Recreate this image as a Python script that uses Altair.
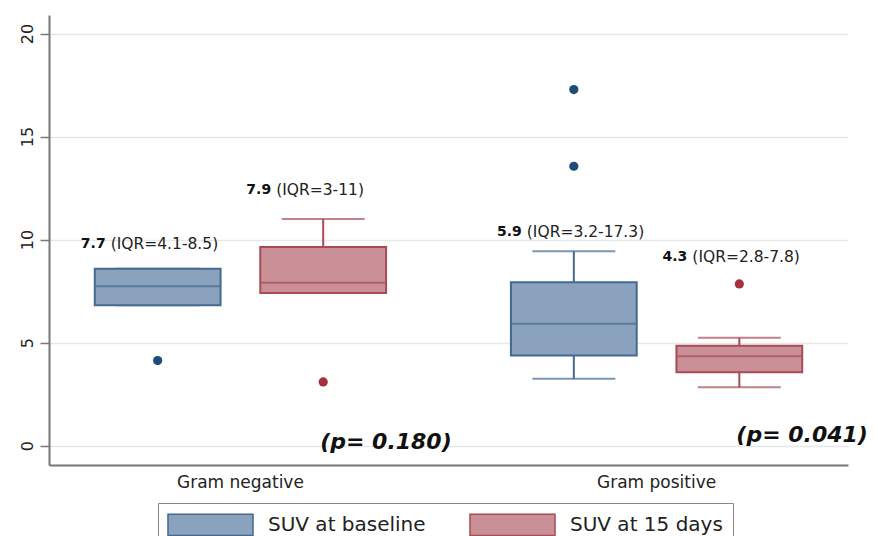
import altair as alt
import pandas as pd

# ---- data ----
groups = ["Gram negative", "Gram negative", "Gram positive", "Gram positive"]
series = ["SUV at baseline", "SUV at 15 days", "SUV at baseline", "SUV at 15 days"]
whisker_low = [6.81, 7.41, 3.24, 2.83]
q1 = [6.81, 7.41, 4.38, 3.56]
median = [7.73, 7.90, 5.92, 4.34]
q3 = [8.59, 9.64, 7.93, 4.85]
whisker_high = [8.59, 11.0, 9.43, 5.23]

outlier_group = ["Gram negative", "Gram negative", "Gram positive", "Gram positive", "Gram positive"]
outlier_series = ["SUV at baseline", "SUV at 15 days", "SUV at baseline", "SUV at baseline", "SUV at 15 days"]
outlier_value = [4.13, 3.09, 17.28, 13.56, 7.85]

label_bold = ["7.7", "7.9", "5.9", "4.3"]
label_rest = ["(IQR=4.1-8.5)", "(IQR=3-11)", "(IQR=3.2-17.3)", "(IQR=2.8-7.8)"]
label_y = [9.8, 12.4, 10.35, 9.15]

p_group = ["Gram negative", "Gram positive"]
p_series = ["SUV at 15 days", "SUV at 15 days"]
p_text = ["(p= 0.180)", "(p= 0.041)"]
p_y = [0.2, 0.5]

series_order = ["SUV at baseline", "SUV at 15 days"]
fill_colors = ["#8aa2bd", "#ca9097"]
line_colors = ["#45698f", "#a84b57"]
dot_colors = ["#1f4b7c", "#a3343f"]

FONT = "DejaVu Sans"

boxes = pd.DataFrame({
    "group": groups, "series": series, "lo": whisker_low, "q1": q1,
    "med": median, "q3": q3, "hi": whisker_high,
    "bold": label_bold, "rest": label_rest, "ly": label_y,
})
outliers = pd.DataFrame({"group": outlier_group, "series": outlier_series, "value": outlier_value})
pvals = pd.DataFrame({"group": p_group, "series": p_series, "text": p_text, "py": p_y})

y_scale = alt.Scale(domain=[-0.94, 20.9], nice=False, zero=False)

x_enc = alt.X(
    "group:N",
    sort=["Gram negative", "Gram positive"],
    scale=alt.Scale(paddingInner=0.3, paddingOuter=0.11),
    axis=alt.Axis(title=None, labelAngle=0, ticks=False, tickSize=0, labelPadding=9,
                  labelFontSize=17, labelFont=FONT, labelColor="#222",
                  domainColor="#777", domainWidth=2, grid=False),
)
xo_enc = alt.XOffset(
    "series:N", sort=series_order,
    scale=alt.Scale(domain=series_order, paddingInner=0.24, paddingOuter=0),
)

base = alt.Chart(boxes).encode(x=x_enc, xOffset=xo_enc)

line_color = alt.Color("series:N", scale=alt.Scale(domain=series_order, range=line_colors), legend=None)

# wide swatch: path is 8x2 units, drawn at sqrt(size)/2 per unit -> 85 x 21 px
legend = alt.Legend(
    title=None, orient="none", legendX=109, legendY=488, direction="horizontal", columns=2,
    symbolType="M-4,-1H4V1H-4Z", symbolSize=452, symbolStrokeWidth=1.5, symbolOffset=31,
    symbolOpacity=1, labelFontSize=20, labelFont=FONT, labelColor="#222",
    labelOffset=46, columnPadding=40, padding=10, strokeColor="#888", fillColor="white",
    labelLimit=400, cornerRadius=0,
)

whiskers = base.mark_rule(strokeWidth=2).encode(
    y=alt.Y("lo:Q", scale=y_scale,
            axis=alt.Axis(title=None, values=[0, 5, 10, 15, 20], labelAngle=270,
                          labelAlign="center", labelBaseline="alphabetic", labelPadding=8,
                          labelFontSize=16, labelFont=FONT, labelColor="#222",
                          tickSize=9, tickColor="#777", tickWidth=1.5,
                          domainColor="#777", domainWidth=2,
                          grid=True, gridColor="#e8e8e8", gridWidth=1.5)),
    y2="hi:Q",
    color=line_color,
)
cap_lo = base.mark_tick(size=83, thickness=2).encode(y=alt.Y("lo:Q", scale=y_scale), color=line_color)
cap_hi = base.mark_tick(size=83, thickness=2).encode(y=alt.Y("hi:Q", scale=y_scale), color=line_color)

box = base.mark_bar(strokeWidth=2, opacity=1).encode(
    y=alt.Y("q1:Q", scale=y_scale),
    y2="q3:Q",
    fill=alt.Fill("series:N", scale=alt.Scale(domain=series_order, range=fill_colors), legend=legend),
    stroke=alt.Stroke("series:N", scale=alt.Scale(domain=series_order, range=line_colors), legend=legend),
)
med = base.mark_tick(size=124, thickness=2).encode(y=alt.Y("med:Q", scale=y_scale), color=line_color)

dots = alt.Chart(outliers).mark_circle(size=85, opacity=1).encode(
    x=x_enc, xOffset=xo_enc,
    y=alt.Y("value:Q", scale=y_scale),
    color=alt.Color("series:N", scale=alt.Scale(domain=series_order, range=dot_colors), legend=None),
)

txt_bold = base.mark_text(align="right", baseline="middle", dx=-52, font=FONT,
                          fontSize=14, fontWeight="bold", color="#111").encode(
    y=alt.Y("ly:Q", scale=y_scale), text="bold:N")
txt_rest = base.mark_text(align="left", baseline="middle", dx=-47, font=FONT,
                          fontSize=15.5, color="#222").encode(
    y=alt.Y("ly:Q", scale=y_scale), text="rest:N")

ptxt = alt.Chart(pvals).mark_text(align="left", baseline="middle", dx=-3, font=FONT,
                                  fontSize=22, fontWeight="bold", fontStyle="italic",
                                  color="#111").encode(
    x=x_enc, xOffset=xo_enc, y=alt.Y("py:Q", scale=y_scale), text="text:N")

chart = alt.layer(
    whiskers, cap_lo, cap_hi, box, med, dots, txt_bold, txt_rest, ptxt
).resolve_scale(color="independent").properties(
    width=799, height=450,
    background="white",
    autosize=alt.AutoSizeParams(type="none"),
    padding={"left": 41, "top": 7, "right": 22, "bottom": 71},
).configure_view(strokeWidth=0, stroke=None)

chart.save("out.html", embed_options={"renderer": "svg", "actions": False})
